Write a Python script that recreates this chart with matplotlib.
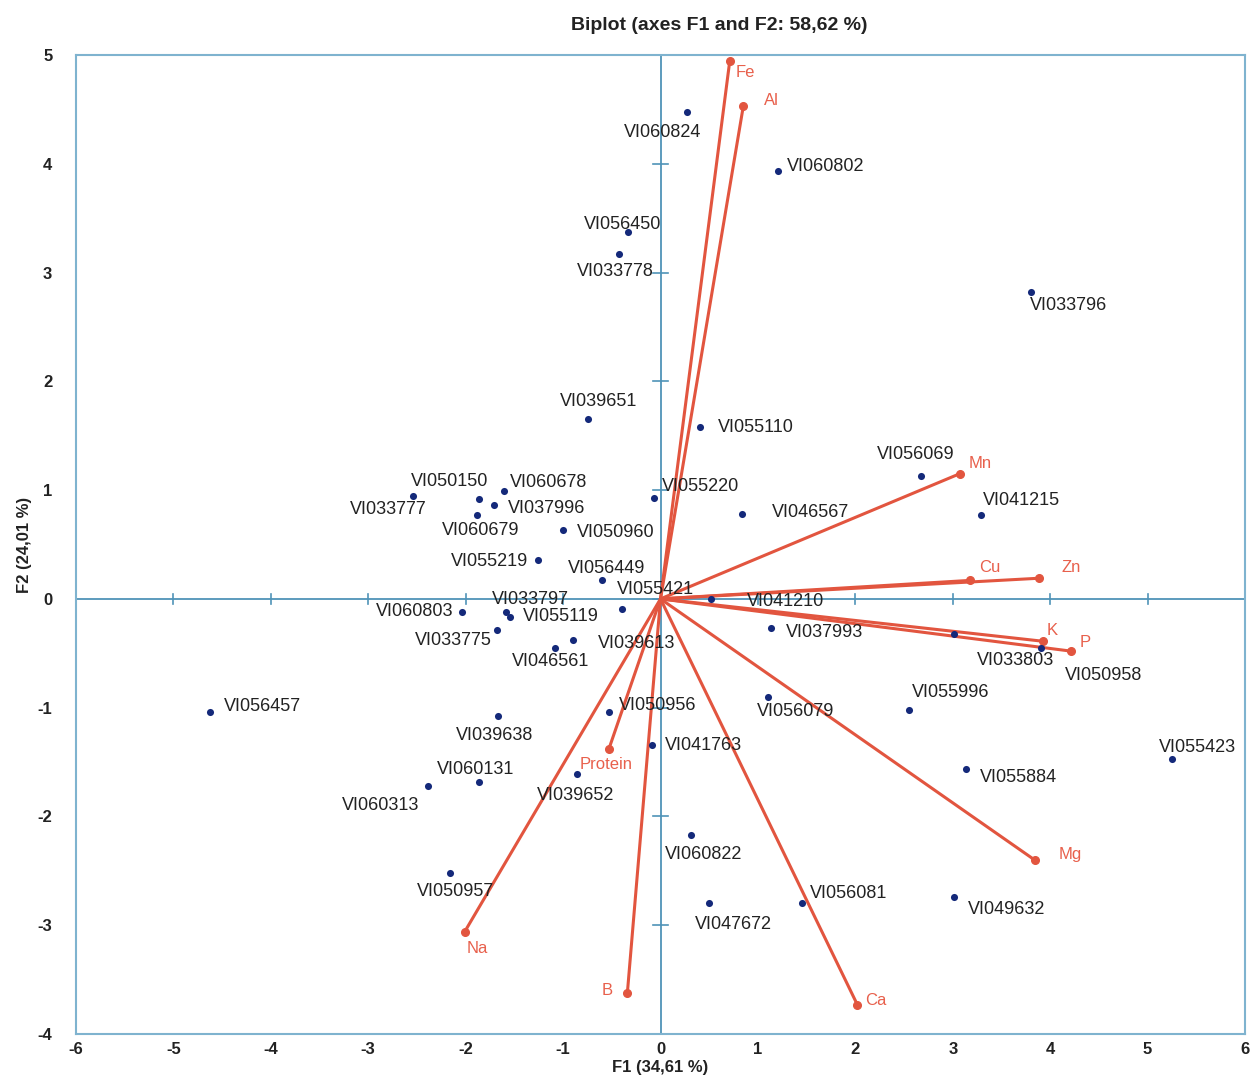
import matplotlib
matplotlib.use("Agg")
import matplotlib.pyplot as plt

plt.rcParams['font.family'] = ['Liberation Sans', 'DejaVu Sans']

# ---------------- data ----------------
obs_names = ["VI060824", "VI060802", "VI056450", "VI033778", "VI033796", "VI039651",
             "VI055110", "VI056069", "VI041215", "VI033777", "VI050150", "VI060678",
             "VI037996", "VI060679", "VI050960", "VI055219", "VI056449", "VI055421",
             "VI060803", "VI033797", "VI055119", "VI033775", "VI039613", "VI046561",
             "VI055220", "VI046567", "VI041210", "VI037993", "VI033803", "VI050958",
             "VI055996", "VI056079", "VI050956", "VI041763", "VI055884", "VI055423",
             "VI060822", "VI056081", "VI047672", "VI049632", "VI056457", "VI039638",
             "VI060131", "VI060313", "VI039652", "VI050957"]
obs_f1 = [0.27, 1.21, -0.33, -0.43, 3.80, -0.74,
          0.41, 2.67, 3.29, -2.54, -1.86, -1.61,
          -1.71, -1.88, -1.00, -1.26, -0.60, -0.40,
          -2.04, -1.59, -1.54, -1.68, -0.90, -1.08,
          -0.07, 0.84, 0.52, 1.13, 3.01, 3.91,
          2.55, 1.10, -0.53, -0.09, 3.14, 5.25,
          0.31, 1.45, 0.50, 3.01, -4.62, -1.67,
          -1.86, -2.39, -0.86, -2.16]
obs_f2 = [4.48, 3.93, 3.37, 3.17, 2.82, 1.65,
          1.58, 1.13, 0.77, 0.95, 0.92, 0.99,
          0.86, 0.77, 0.63, 0.36, 0.17, -0.09,
          -0.12, -0.12, -0.17, -0.29, -0.38, -0.45,
          0.93, 0.78, 0.00, -0.27, -0.32, -0.45,
          -1.02, -0.90, -1.04, -1.34, -1.56, -1.47,
          -2.17, -2.80, -2.80, -2.74, -1.04, -1.08,
          -1.68, -1.72, -1.61, -2.52]

var_names = ["Fe", "Al", "Mn", "Cu", "Zn", "K", "P", "Mg", "Ca", "B", "Na", "Protein"]
var_f1 = [0.71, 0.85, 3.07, 3.18, 3.89, 3.93, 4.21, 3.84, 2.02, -0.34, -2.01, -0.53]
var_f2 = [4.94, 4.53, 1.15, 0.17, 0.19, -0.39, -0.48, -2.40, -3.73, -3.62, -3.06, -1.38]

x_ticks = [-6, -5, -4, -3, -2, -1, 0, 1, 2, 3, 4, 5, 6]
y_ticks = [-4, -3, -2, -1, 0, 1, 2, 3, 4, 5]

# ---------------- label placement (pixel offsets of label centres) ----------------
obs_offsets = [(-24, -21), (47, 5), (-6, 8), (-3, -17), (38, -13), (10, 18),
               (55, -1), (-5, 21), (40, 15), (-25, -14), (-30, 17), (45, 9),
               (53, -3), (3, -15), (53, -2), (-48, -2), (5, 12), (34, 19),
               (-47, 0), (25, 12), (50, 1), (-43, -10), (64, -3), (-5, -14),
               (47, 11), (68, 2), (74, -3), (54, -4), (62, -27), (62, -28),
               (42, 17), (28, -15), (49, 7), (52, -1), (52, -9), (26, 11),
               (13, -20), (47, 10), (24, -21), (53, -13), (52, 6), (-3, -19),
               (-4, 12), (-47, -20), (-1, -21), (5, -19)]
var_offsets = [(16, -11), (28, 6), (21, 10), (19, 13), (32, 11), (9, 11),
               (15, 9), (36, 5), (19, 4), (-20, 2), (13, -17), (-3, -16)]

RED = '#e2553f'
RED_TXT = '#e8604c'
NAVY = '#14297a'
AXBLUE = '#4f93b8'

fig = plt.figure(figsize=(12.58, 10.8), dpi=100)
ax = fig.add_axes([0.0604, 0.0426, 0.9293, 0.9065])
ax.set_xlim(-6, 6)
ax.set_ylim(-4, 5)

# zero lines
ax.axhline(0, color=AXBLUE, lw=1.3, zorder=1)
ax.axvline(0, color=AXBLUE, lw=1.3, zorder=1)
# cross ticks on zero lines
for t in x_ticks:
    ax.plot([t, t], [-0.045, 0.045], color=AXBLUE, lw=1.2, zorder=1)
for t in y_ticks:
    ax.plot([-0.075, 0.075], [t, t], color=AXBLUE, lw=1.2, zorder=1)

# variable vectors
for name, vx, vy, (dx, dy) in zip(var_names, var_f1, var_f2, var_offsets):
    ax.plot([0, vx], [0, vy], color=RED, lw=2.2, zorder=2, solid_capstyle='round')
    ax.plot([vx], [vy], 'o', color=RED, ms=5.5, zorder=3)
    ax.annotate(name, (vx, vy), xytext=(dx, dy), textcoords='offset pixels',
                ha='center', va='center', color=RED_TXT, fontsize=12, zorder=4)

# observations
ax.scatter(obs_f1, obs_f2, s=26, color=NAVY, zorder=5, linewidths=0)
for name, ox, oy, (dx, dy) in zip(obs_names, obs_f1, obs_f2, obs_offsets):
    ax.annotate(name, (ox, oy), xytext=(dx, dy), textcoords='offset pixels',
                ha='center', va='center', color='#222222', fontsize=13, zorder=6)

for sp in ax.spines.values():
    sp.set_color('#7fb3cf')
    sp.set_linewidth(1.5)

ax.set_xticks(x_ticks)
ax.set_yticks(y_ticks)
ax.set_xticklabels([str(t) for t in x_ticks], fontsize=12, fontweight='bold', color='#222222')
ax.set_yticklabels([str(t) for t in y_ticks], fontsize=12, fontweight='bold', color='#222222')
ax.tick_params(axis='both', length=0)
ax.tick_params(axis='x', pad=6)
ax.tick_params(axis='y', pad=17)

ax.set_xlabel("F1 (34,61 %)", fontsize=12, fontweight='bold', color='#222222', labelpad=2)
ax.set_ylabel("F2 (24,01 %)", fontsize=12, fontweight='bold', color='#222222', labelpad=4)
ax.set_title("Biplot (axes F1 and F2: 58,62 %)", fontsize=14, fontweight='bold',
             color='#222222', pad=18, x=0.55)

fig.savefig("out.png", dpi=100, facecolor='white')
